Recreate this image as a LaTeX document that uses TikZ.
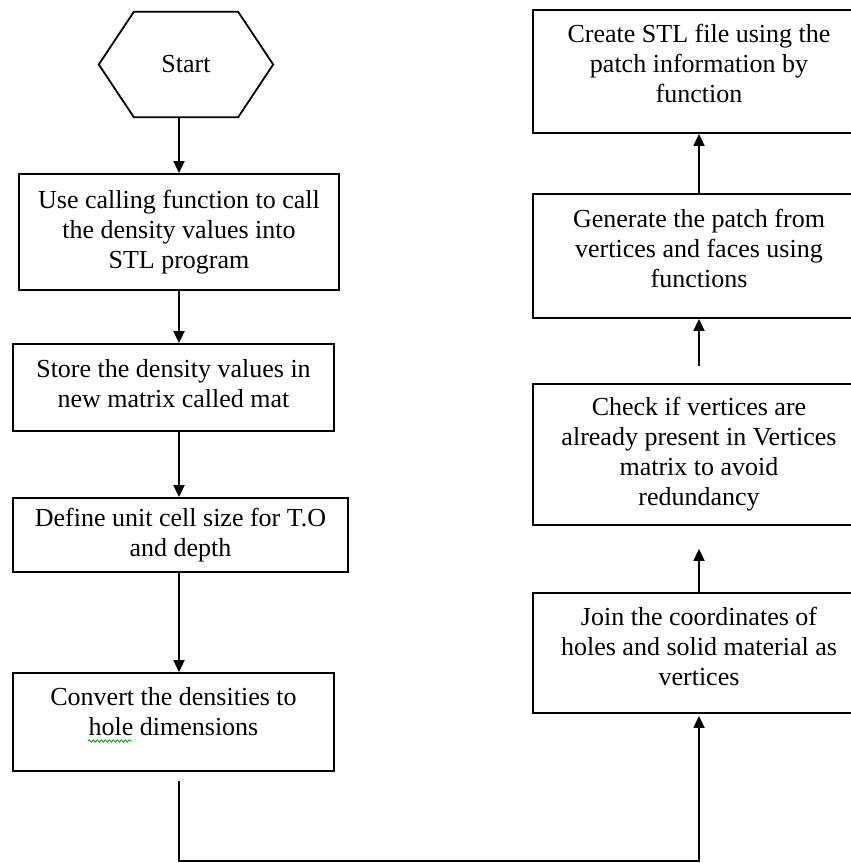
\documentclass[tikz,border=0pt]{standalone}
\usepackage{fontspec}
\setmainfont{Liberation Serif}
\usetikzlibrary{positioning, arrows.meta, decorations.pathmorphing}

\begin{document}
\begin{tikzpicture}[x=1pt, y=-1pt,
	every node/.style={font=\fontsize{26}{30}\selectfont},
	proc/.style={rectangle, draw, line width=1.8pt, align=center, inner sep=0pt},
	arr/.style={-{Triangle[length=12pt, width=11pt]}, line width=1.8pt},
	spell/.style={draw=green!60!black, line width=0.8pt, decorate, decoration={snake, amplitude=1.2pt, segment length=4pt}}
	]

\useasboundingbox (0,0) rectangle (851,863);
\clip (0,0) rectangle (851,863);

% left column
\node[minimum width=174pt, minimum height=105pt] (start) at (186,64.5) {Start};
\draw[line width=1.8pt] (start.west) -- ([xshift=35pt]start.north west) -- ([xshift=-35pt]start.north east)
	-- (start.east) -- ([xshift=-35pt]start.south east) -- ([xshift=35pt]start.south west) -- cycle;

\node[proc, minimum width=320pt, minimum height=116pt] (use) at (179,232) {Use calling function to call\\the density values into\\STL program};
\node[proc, minimum width=321pt, minimum height=87pt] (store) at (173.5,387.5) {Store the density values in\\new matrix called mat\\[-22pt]\mbox{}};
\node[proc, minimum width=335pt, minimum height=74pt] (define) at (180.5,535) {Define unit cell size for T.O\\and depth};
\node[proc, minimum width=321pt, minimum height=98pt] (convert) at (173.5,722) {Convert the densities to\\hole dimensions\\[-8pt]\mbox{}};
\draw[spell] ([shift={(-85.5,19)}]convert.center) -- ++(44,0);

% right column
\node[proc, minimum width=332pt, minimum height=123pt] (create) at (699,71.5) {Create STL file using the\\patch information by\\function\\[-14pt]\mbox{}};
\node[proc, minimum width=332pt, minimum height=124pt] (patch) at (699,256) {Generate the patch from\\vertices and faces using\\functions\\[-14pt]\mbox{}};
\node[proc, minimum width=332pt, minimum height=141pt] (check) at (699,454.5) {Check if vertices are\\already present in Vertices\\matrix to avoid\\redundancy};
\node[proc, minimum width=332pt, minimum height=120pt] (join) at (699,653) {Join the coordinates of\\holes and solid material as\\vertices\\[-16pt]\mbox{}};

\draw[arr] (start.south -| use) -- (use);
\draw[arr] (use) -- (use |- store.north);
\draw[arr] (store.south -| use) -- (use |- define.north);
\draw[arr] (define.south -| use) -- (use |- convert.north);
\draw[arr, shorten <=9pt, shorten >=2pt] (convert.south -| use) -- ++(0,89) -| (join);

\draw[arr, shorten >=23pt] (join) -- (check);
\draw[arr, shorten <=17pt] (check) -- (patch);
\draw[arr] (patch) -- (create);

\end{tikzpicture}
\end{document}
